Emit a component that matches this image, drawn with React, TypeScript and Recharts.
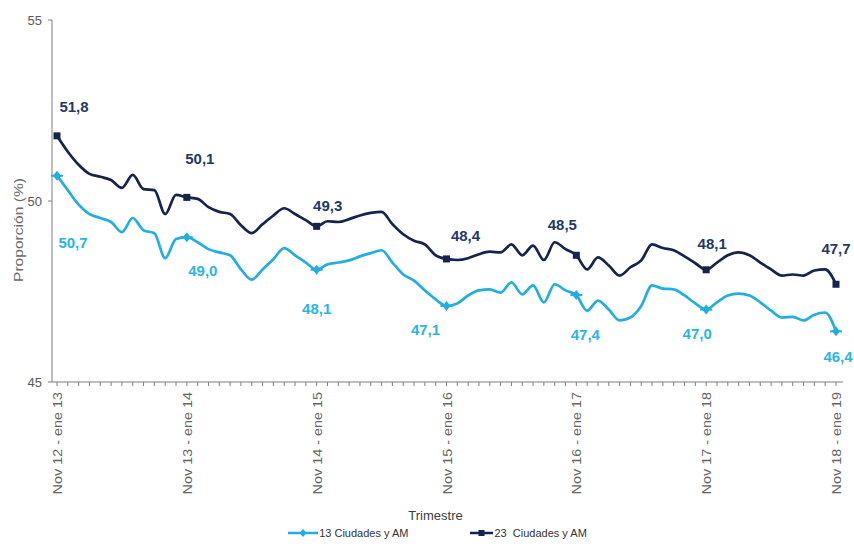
import React from 'react';
import { LineChart, Line, XAxis, YAxis, Legend, LabelList, Label } from 'recharts';

const MONTHS = ['ene', 'feb', 'mar', 'abr', 'may', 'jun', 'jul', 'ago', 'sep', 'oct', 'nov', 'dic'];

const categories: string[] = Array.from({ length: 73 }, (_, i) => {
  const s = 10 + i;
  const e = s + 2;
  const sm = MONTHS[s % 12];
  const em = MONTHS[e % 12];
  const sy = 12 + Math.floor(s / 12);
  const ey = 12 + Math.floor(e / 12);
  return `${sm.charAt(0).toUpperCase()}${sm.slice(1)} ${sy} - ${em} ${ey}`;
});

const tickLabels = [
  'Nov 12 - ene 13',
  'Nov 13 - ene 14',
  'Nov 14 - ene 15',
  'Nov 15 - ene 16',
  'Nov 16 - ene 17',
  'Nov 17 - ene 18',
  'Nov 18 - ene 19',
];

const serie13 = [
  50.7, 50.3, 49.9, 49.64, 49.53, 49.42, 49.14, 49.53, 49.19, 49.11, 48.42, 48.95,
  49.0, 48.86, 48.67, 48.58, 48.5, 48.11, 47.83, 48.11, 48.39, 48.7, 48.5, 48.3,
  48.1, 48.25, 48.3, 48.36, 48.47, 48.56, 48.64, 48.3, 47.97, 47.8, 47.53, 47.28,
  47.1, 47.17, 47.39, 47.53, 47.56, 47.47, 47.75, 47.42, 47.67, 47.2, 47.7, 47.53,
  47.4, 46.97, 47.25, 47.0, 46.7, 46.78, 47.1, 47.67, 47.58, 47.56, 47.39, 47.17,
  47.0, 47.2, 47.39, 47.44, 47.39, 47.2, 46.97, 46.78, 46.8, 46.7, 46.86, 46.92,
  46.4,
];

const serie23 = [
  51.8, 51.36, 51.0, 50.75, 50.67, 50.58, 50.36, 50.72, 50.33, 50.3, 49.64, 50.17,
  50.1, 50.06, 49.83, 49.7, 49.64, 49.33, 49.11, 49.36, 49.6, 49.8, 49.64, 49.47,
  49.3, 49.44, 49.42, 49.5, 49.6, 49.67, 49.7, 49.36, 49.08, 48.9, 48.8, 48.5,
  48.4, 48.37, 48.42, 48.53, 48.6, 48.58, 48.8, 48.5, 48.77, 48.37, 48.86, 48.67,
  48.5, 48.11, 48.44, 48.22, 47.94, 48.17, 48.36, 48.8, 48.7, 48.64, 48.47, 48.28,
  48.1, 48.3, 48.5, 48.58, 48.5, 48.3, 48.11, 47.94, 47.97, 47.94, 48.08, 48.11,
  47.7,
];

const yTicks = [45, 50, 55];

const rows = categories.map((c, i) => ({ cat: c, s13: serie13[i], s23: serie23[i] }));

const DARK = '#15234f';
const LIGHT = '#22ade3';
const DARK_LABEL = '#1f3a66';
const LIGHT_LABEL = '#2bb4e6';
const FONT = '"Liberation Sans", Arial, sans-serif';

// label offsets (dx, dy) relative to the point, for the highlighted points
const offs23: Record<number, [number, number]> = {
  0: [17, -29], 12: [13, -39], 24: [11, -21], 36: [19, -23], 48: [-14, -31], 60: [6, -26], 72: [0, -36],
};
const offs13: Record<number, [number, number]> = {
  0: [16, 67], 12: [16, 33], 24: [0, 39], 36: [-21, 24], 48: [9, 39], 60: [-9, 24], 72: [2, 25],
};

const fmt = (v: number) => v.toFixed(1).replace('.', ',');

const XTick = (props: any) => {
  const { x, y, payload } = props;
  if (!tickLabels.includes(payload.value)) return <g />;
  return (
    <text
      transform={`translate(${x + 1},${y + 4}) rotate(-90) scale(1.2,1)`}
      x={0}
      y={0}
      textAnchor="end"
      dominantBaseline="central"
      fontSize={12}
      fontFamily={FONT}
      fill="#666"
    >
      {payload.value}
    </text>
  );
};

const makeDot = (kind: 'sq' | 'dia', color: string) => (props: any) => {
  const { cx, cy, index } = props;
  if (index % 12 !== 0 || cx == null) return <g key={`d-${kind}-${index}`} />;
  if (kind === 'sq') {
    return <rect key={`d-${kind}-${index}`} x={cx - 3.5} y={cy - 3.5} width={7} height={7} fill={color} />;
  }
  return (
    <g key={`d-${kind}-${index}`}>
      <path d={`M${cx},${cy - 5} L${cx + 4},${cy} L${cx},${cy + 5} L${cx - 4},${cy} Z`} fill={color} />
      <line x1={cx - 6} y1={cy} x2={cx + 6} y2={cy} stroke={color} strokeWidth={2} />
    </g>
  );
};

const makeLabel = (offs: Record<number, [number, number]>, color: string) => (props: any) => {
  const { x, y, value, index } = props;
  const o = offs[index];
  if (!o) return <g key={`l-${index}`} />;
  return (
    <text
      key={`l-${index}`}
      x={x + o[0]}
      y={y + o[1]}
      textAnchor="middle"
      dominantBaseline="central"
      fontSize={15}
      fontWeight="bold"
      fontFamily={FONT}
      fill={color}
    >
      {fmt(value)}
    </text>
  );
};

const legendItems = [
  { name: '13 Ciudades y AM', color: LIGHT, kind: 'dia', w: 30 },
  { name: '23\u00a0 Ciudades y AM', color: DARK, kind: 'sq', w: 23 },
];

const renderLegend = () => (
  <div
    style={{
      height: 22,
      display: 'flex',
      justifyContent: 'center',
      alignItems: 'center',
      gap: 62,
      fontFamily: FONT,
      fontSize: 11,
      color: '#333',
      paddingLeft: 20,
      boxSizing: 'border-box',
    }}
  >
    {legendItems.map((it) => (
      <div key={it.name} style={{ display: 'flex', alignItems: 'center' }}>
        <svg width={it.w} height={10} style={{ marginRight: 1 }}>
          <line x1={0} y1={5} x2={it.w} y2={5} stroke={it.color} strokeWidth={2.5} />
          {it.kind === 'sq' ? (
            <rect x={it.w / 2 - 3} y={2} width={6} height={6} fill={it.color} />
          ) : (
            <path d={`M${it.w / 2},1 L${it.w / 2 + 3.5},5 L${it.w / 2},9 L${it.w / 2 - 3.5},5 Z`} fill={it.color} />
          )}
        </svg>
        <span>{it.name}</span>
      </div>
    ))}
  </div>
);

const YLabelContent = (props: any) => {
  const vb = props.viewBox || { x: 12, y: 20, width: 40, height: 362 };
  const cx = vb.x + 6;
  const cy = vb.y + vb.height / 2 + 29;
  return (
    <text
      transform={`translate(${cx},${cy}) rotate(-90) scale(1.2,1)`}
      x={0}
      y={0}
      textAnchor="middle"
      dominantBaseline="central"
      fontSize={13}
      fontFamily={FONT}
      fill="#6b6b6b"
    >
      Proporción (%)
    </text>
  );
};

const XLabelContent = (props: any) => {
  const vb = props.viewBox || { x: 52, y: 382, width: 791, height: 140 };
  return (
    <text
      x={vb.x + vb.width / 2 - 12}
      y={vb.y + 133}
      textAnchor="middle"
      dominantBaseline="central"
      fontSize={13}
      fontFamily={FONT}
      fill="#404040"
    >
      Trimestre
    </text>
  );
};

export default function App() {
  return (
    <div style={{ position: 'absolute', left: 0, top: 0, width: 854, height: 544, background: '#fff' }}>
      <LineChart width={854} height={544} data={rows} margin={{ top: 20, right: 11, bottom: 0, left: 12 }}>
        <XAxis
          dataKey="cat"
          interval={0}
          tick={<XTick />}
          tickSize={4}
          height={140}
          padding={{ left: 5, right: 7 }}
          stroke="#7f7f7f"
          tickLine={{ stroke: '#7f7f7f' }}
        >
          <Label content={<XLabelContent />} />
        </XAxis>
        <YAxis
          domain={[45, 55]}
          ticks={yTicks}
          width={40}
          tickSize={4}
          tickMargin={6}
          stroke="#7f7f7f"
          tick={{ fill: '#595959', fontSize: 13, fontFamily: FONT }}
          allowDataOverflow
        >
          <Label content={<YLabelContent />} />
        </YAxis>
        <Legend verticalAlign="bottom" height={22} content={renderLegend} />
        <Line
          type="monotone"
          dataKey="s13"
          name="13 Ciudades y AM"
          stroke={LIGHT}
          strokeWidth={2.7}
          dot={makeDot('dia', LIGHT)}
          activeDot={false}
          isAnimationActive={false}
        >
          <LabelList dataKey="s13" content={makeLabel(offs13, LIGHT_LABEL)} />
        </Line>
        <Line
          type="monotone"
          dataKey="s23"
          name="23 Ciudades y AM"
          stroke={DARK}
          strokeWidth={2.7}
          dot={makeDot('sq', DARK)}
          activeDot={false}
          isAnimationActive={false}
        >
          <LabelList dataKey="s23" content={makeLabel(offs23, DARK_LABEL)} />
        </Line>
      </LineChart>
    </div>
  );
}
